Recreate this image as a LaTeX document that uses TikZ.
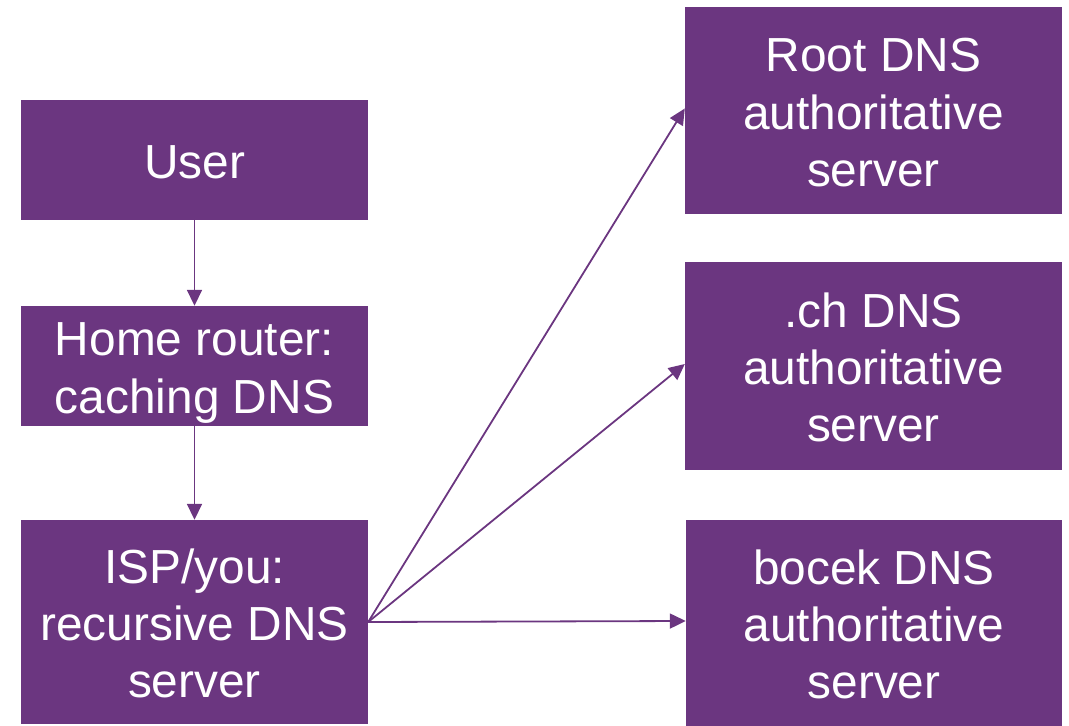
\documentclass[tikz,border=0pt]{standalone}
\usepackage{fontspec}
\setmainfont{Liberation Sans}
\usetikzlibrary{arrows.meta}
\definecolor{dnspurple}{HTML}{6B3680}
% fixed struts keep the lines at the same place in every box
\newcommand\topstrut{\rule{0pt}{47bp}}
\newcommand\botstrut{\rule[-10bp]{0pt}{0pt}}
\begin{document}
\begin{tikzpicture}[x=1bp,y=-1bp,
  box/.style={fill=dnspurple, draw=none, text=white, align=center,
    inner sep=0pt, font=\fontsize{48}{57.5}\selectfont},
  link/.style={draw=dnspurple, line width=1.8bp,
    -{Triangle[length=16bp,width=15bp]}}]
\useasboundingbox (0,0) rectangle (1069,726);
% client side
\node[box, minimum width=347bp, minimum height=120bp] (user) at (194.5,160)
  {\topstrut User\botstrut};
\node[box, minimum width=347bp, minimum height=120bp] (router) at (194.5,366)
  {\topstrut Home router:\\caching DNS\botstrut};
\node[box, minimum width=347bp, minimum height=204bp] (isp) at (194.5,622)
  {\topstrut ISP/you:\\recursive DNS\\server\botstrut};
% authoritative servers
\node[box, minimum width=377bp, minimum height=207bp] (root) at (873.5,110.5)
  {\topstrut Root DNS\\authoritative\\server\botstrut};
\node[box, minimum width=377bp, minimum height=208bp] (ch) at (873.5,366)
  {\topstrut .ch DNS\\authoritative\\server\botstrut};
\node[box, minimum width=376bp, minimum height=206bp] (bocek) at (874,623)
  {\topstrut bocek DNS\\authoritative\\server\botstrut};
% queries
\draw[link] (user) -- (router);
\draw[link] (router) -- (isp);
\draw[link] (isp.east) -- ([yshift=2bp]root.west);
\draw[link] (isp.east) -- ([yshift=2bp]ch.west);
\draw[link] (isp.east) -- ([yshift=2bp]bocek.west);
\end{tikzpicture}
\end{document}
